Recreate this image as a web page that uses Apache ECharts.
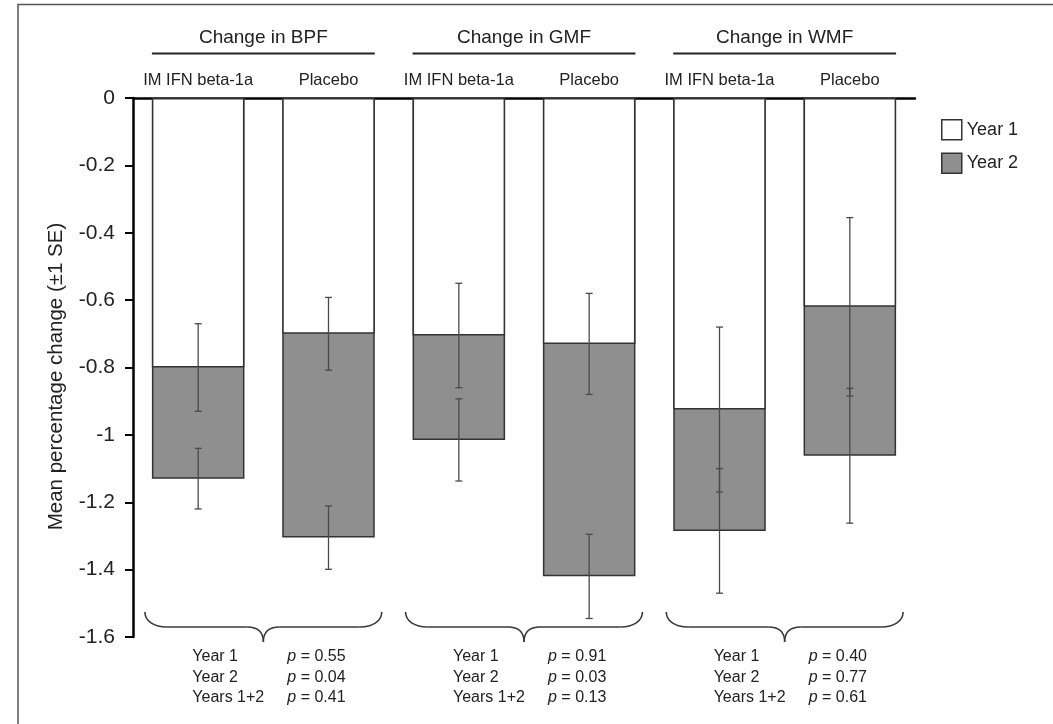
<!DOCTYPE html>
<html>
<head>
<meta charset="utf-8">
<script src="https://cdn.jsdelivr.net/npm/echarts@6/dist/echarts.min.js"></script>
<style>
html, body { margin: 0; padding: 0; background: #fff; }
#main { width: 1053px; height: 724px; }
</style>
</head>
<body>
<div id="main"></div>
<script>
// data
var groups = ['Change in BPF', 'Change in GMF', 'Change in WMF'];
var arms = ['IM IFN beta-1a', 'Placebo', 'IM IFN beta-1a', 'Placebo', 'IM IFN beta-1a', 'Placebo'];
var year1 = [-0.80, -0.70, -0.705, -0.73, -0.925, -0.62];
var years12 = [-1.13, -1.305, -1.015, -1.42, -1.285, -1.062];
var year1SE = [0.13, 0.108, 0.155, 0.15, 0.245, 0.265];
var years12SE = [0.09, 0.094, 0.122, 0.125, 0.185, 0.2];
var pRows = ['Year 1', 'Year 2', 'Years 1+2'];
var pValues = [
    ['0.55', '0.04', '0.41'],
    ['0.91', '0.03', '0.13'],
    ['0.40', '0.77', '0.61']
];
var yMin = -1.6, yMax = 0, yStep = 0.2;

var font = '"Liberation Sans", Arial, Helvetica, sans-serif';
var txt = '#222';

var dom = document.getElementById('main');
var myChart = echarts.init(dom);

var errData = [];
for (var i = 0; i < arms.length; i++) {
    errData.push([i, year1[i], year1SE[i]]);
    errData.push([i, years12[i], years12SE[i]]);
}

function renderErr(params, api) {
    var x = api.value(0), m = api.value(1), se = api.value(2);
    var top = api.coord([x, m + se]);
    var bot = api.coord([x, m - se]);
    var cap = 3.5;
    var st = { stroke: '#4a4a4a', lineWidth: 1.3 };
    return {
        type: 'group',
        children: [
            { type: 'line', shape: { x1: top[0], y1: top[1], x2: bot[0], y2: bot[1] }, style: st },
            { type: 'line', shape: { x1: top[0] - cap, y1: top[1], x2: top[0] + cap, y2: top[1] }, style: st },
            { type: 'line', shape: { x1: bot[0] - cap, y1: bot[1], x2: bot[0] + cap, y2: bot[1] }, style: st }
        ]
    };
}

var option = {
    animation: false,
    textStyle: { fontFamily: font },
    grid: { left: 133, right: 138, top: 98, bottom: 87, containLabel: false },
    legend: {
        orient: 'vertical',
        left: 936, top: 114,
        itemWidth: 20, itemHeight: 20, itemGap: 12,
        icon: 'rect',
        data: ['Year 1', 'Year 2'],
        itemStyle: { borderColor: '#333', borderWidth: 1.5 },
        textStyle: { fontSize: 18, color: txt, fontFamily: font }
    },
    xAxis: [{
        type: 'category',
        position: 'top',
        data: arms,
        axisLine: { lineStyle: { color: '#000', width: 2.5 } },
        axisTick: { inside: true, length: 5, lineStyle: { color: '#000', width: 2 } },
        axisLabel: { fontSize: 16.5, color: txt, margin: 9, interval: 0 }
    }, {
        type: 'category',
        position: 'top',
        offset: 45,
        data: groups,
        axisLine: { show: false },
        axisTick: { show: false },
        axisLabel: { fontSize: 19, color: txt, margin: 6, interval: 0 }
    }],
    yAxis: {
        type: 'value',
        min: yMin, max: yMax, interval: yStep,
        name: 'Mean percentage change (±1 SE)',
        nameLocation: 'middle',
        nameGap: 66,
        nameTextStyle: { fontSize: 20.5, color: txt, padding: [0, 18, 0, 0] },
        axisLine: { show: true, lineStyle: { color: '#000', width: 2.5 } },
        axisTick: { show: true, length: 8, lineStyle: { color: '#000', width: 2 } },
        axisLabel: { fontSize: 21, color: txt, margin: 18 },
        splitLine: { show: false }
    },
    series: [{
        name: 'Year 2',
        type: 'bar',
        data: years12,
        barWidth: '71%',
        barGap: '-100%',
        itemStyle: { color: '#8f8f8f', borderColor: '#333', borderWidth: 1.5 }
    }, {
        name: 'Year 1',
        type: 'bar',
        data: year1,
        barWidth: '71%',
        barGap: '-100%',
        itemStyle: { color: '#fff', borderColor: '#333', borderWidth: 1.5 }
    }, {
        type: 'custom',
        renderItem: renderErr,
        data: errData,
        encode: { x: 0, y: 1 },
        z: 5,
        silent: true
    }]
};

if (option && typeof option === "object") {
    myChart.setOption(option, true);
}

// braces, underlines, p-values and the frame
var g = [];
g.push({ type: 'rect', shape: { x: 18, y: 4.5, width: 1100, height: 800 },
    style: { fill: 'none', stroke: '#555', lineWidth: 1.5 }, silent: true });

var braceStyle = { fill: 'none', stroke: '#3a3a3a', lineWidth: 1.6 };
function bez(x1, y1, c1x, c1y, c2x, c2y, x2, y2) {
    return { type: 'bezierCurve', silent: true, style: braceStyle,
        shape: { x1: x1, y1: y1, cpx1: c1x, cpy1: c1y, cpx2: c2x, cpy2: c2y, x2: x2, y2: y2 } };
}
function seg(x1, y1, x2, y2) {
    return { type: 'line', silent: true, style: braceStyle,
        shape: { x1: x1, y1: y1, x2: x2, y2: y2 } };
}

var band = myChart.convertToPixel({ xAxisIndex: 0 }, 1) - myChart.convertToPixel({ xAxisIndex: 0 }, 0);
var half = band * 0.71 / 2;
var yBot = myChart.convertToPixel({ yAxisIndex: 0 }, yMin);
for (var k = 0; k < groups.length; k++) {
    var xa = myChart.convertToPixel({ xAxisIndex: 0 }, 2 * k);
    var xb = myChart.convertToPixel({ xAxisIndex: 0 }, 2 * k + 1);
    var left = xa - half, right = xb + half, mid = (xa + xb) / 2;
    // underline under the group title
    g.push({ type: 'line', shape: { x1: left, y1: 53.5, x2: right, y2: 53.5 },
        style: { stroke: '#222', lineWidth: 2 }, silent: true });
    // curly brace
    var l = left - 7, r = right + 7;
    var t = yBot - 25, h = yBot - 10, tip = yBot + 5;
    g.push(bez(l, t, l, t + 9, l + 9, h, l + 22, h));
    g.push(seg(l + 22, h, mid - 16, h));
    g.push(bez(mid - 16, h, mid - 6, h, mid, h + 5, mid, tip));
    g.push(bez(mid, tip, mid, h + 5, mid + 6, h, mid + 16, h));
    g.push(seg(mid + 16, h, r - 22, h));
    g.push(bez(r - 22, h, r - 9, h, r, t + 9, r, t));
    for (var j = 0; j < pRows.length; j++) {
        var ty = yBot + 20 + j * 20.3;
        g.push({ type: 'text', x: mid - 71, y: ty,
            style: { text: pRows[j], font: '16px ' + font, fill: txt, verticalAlign: 'middle', align: 'left' },
            silent: true });
        g.push({ type: 'text', x: mid + 24, y: ty,
            style: { text: '{i|p} = ' + pValues[k][j], font: '16px ' + font, fill: txt,
                verticalAlign: 'middle', align: 'left',
                rich: { i: { fontStyle: 'italic', fontSize: 16, fontFamily: font, fill: txt } } },
            silent: true });
    }
}
myChart.setOption({ graphic: g });
</script>
</body>
</html>
